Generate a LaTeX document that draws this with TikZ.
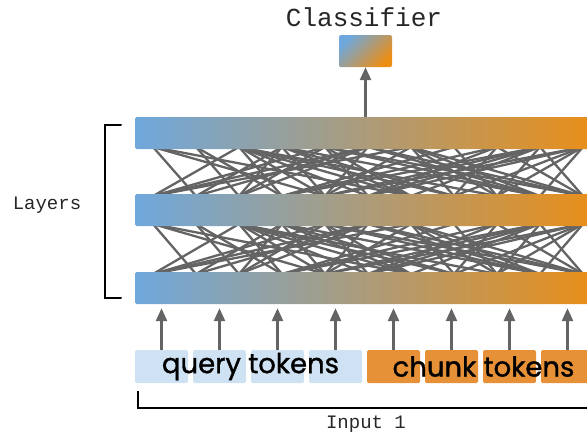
\documentclass[tikz,border=0pt]{standalone}
\usepackage{fontspec}
\newfontfamily\monofont{Liberation Mono}
\newfontfamily\tokfont[FakeBold=1.2]{Poppins}
\usetikzlibrary{arrows.meta}
\usetikzlibrary{calc}

\definecolor{layblue}{RGB}{111,168,220}
\definecolor{layorange}{RGB}{236,142,20}
\definecolor{qblue}{RGB}{207,226,243}
\definecolor{corange}{RGB}{230,145,56}
\definecolor{wire}{RGB}{100,100,100}

\tikzset{
  layer/.style={rectangle, rounded corners=1.5pt, minimum height=32pt, minimum width=470pt,
    inner sep=0pt, anchor=west, left color=layblue, right color=layorange},
  token/.style={rectangle, rounded corners=1.5pt, minimum width=53pt, minimum height=33pt, inner sep=0pt},
  qtok/.style={token, fill=qblue},
  ctok/.style={token, fill=corange},
  feed/.style={-{Triangle[length=13pt,width=11pt]}, line width=2.6pt, wire},
  mesh/.style={line width=2.3pt, wire},
  monotext/.style={font=\monofont\fontsize{19}{19}\selectfont, text=black!85},
  toktext/.style={font=\tokfont\fontsize{27.5}{27.5}\selectfont, inner sep=0pt}
}

\begin{document}
\begin{tikzpicture}[x=1pt, y=-1pt]
    \useasboundingbox (0,0) rectangle (587,432);
    \clip (0,0) rectangle (587,432);

    % Connections between the layers
    \foreach \i in {0,...,10} {
        \coordinate (u\i) at (153+43*\i, 147);
        \coordinate (l\i) at (153+43*\i, 196);
        \coordinate (uu\i) at (153+43*\i, 224);
        \coordinate (ll\i) at (153+43*\i, 274);
    }
    \pgfmathsetseed{23}
    \foreach \i in {0,...,10} {
        \foreach \j in {0,...,10} {
            \pgfmathtruncatemacro\gap{abs(\i-\j)}
            \pgfmathtruncatemacro\pick{rnd<0.55 ? 1 : 0}
            \ifnum\gap>0 \ifnum\gap<7 \ifnum\pick=1
                \draw[mesh] (u\i) -- (l\j);
                \draw[mesh] (uu\i) -- (ll\j);
            \fi\fi\fi
        }
    }

    % Layers
    \node[layer] (top) at (135,133) {};
    \node[layer] (mid) at (135,210) {};
    \node[layer] (bot) at (135,288) {};

    % Classifier
    \shade[left color=layblue, right color=layorange, shading angle=45, rounded corners=1.5pt]
        (339,35) rectangle (392,67);
    \node[rectangle, minimum width=53pt, minimum height=32pt, inner sep=0pt] (cls) at (365.5,51) {};
    \node[font=\monofont\fontsize{26}{26}\selectfont, text=black!85, inner sep=0pt] (clstext) at (364,17) {Classifier};
    \draw[feed] (top.north -| cls) -- (cls.south);

    % Tokens
    \foreach \k in {1,...,4} {
        \node[qtok] (q\k) at (103.5+58*\k, 366.5) {};
        \node[ctok] (c\k) at (335.5+58*\k, 366.5) {};
        \draw[feed, shorten >=4pt] (q\k.north) -- (q\k.north |- bot.south);
        \draw[feed, shorten >=4pt] (c\k.north) -- (c\k.north |- bot.south);
    }
    \node[toktext] (qtext) at ($(q1)!0.5!(q4)+(2,0)$) {query tokens};
    \node[toktext] (ctext) at ($(c1)!0.5!(c4)+(3,0)$) {chunk tokens};

    % Brackets
    \draw[line width=2pt, line cap=round] (121,125) -- (105,125) -- (105,298) -- (121,298);
    \node[monotext] (layers) at (47,205) {Layers};
    \coordinate (brk) at (138,391);
    \draw[line width=2pt] (brk) -- (138,408) -- (600,408);
    \node[monotext] (input) at (366,424) {Input 1};
\end{tikzpicture}
\end{document}
